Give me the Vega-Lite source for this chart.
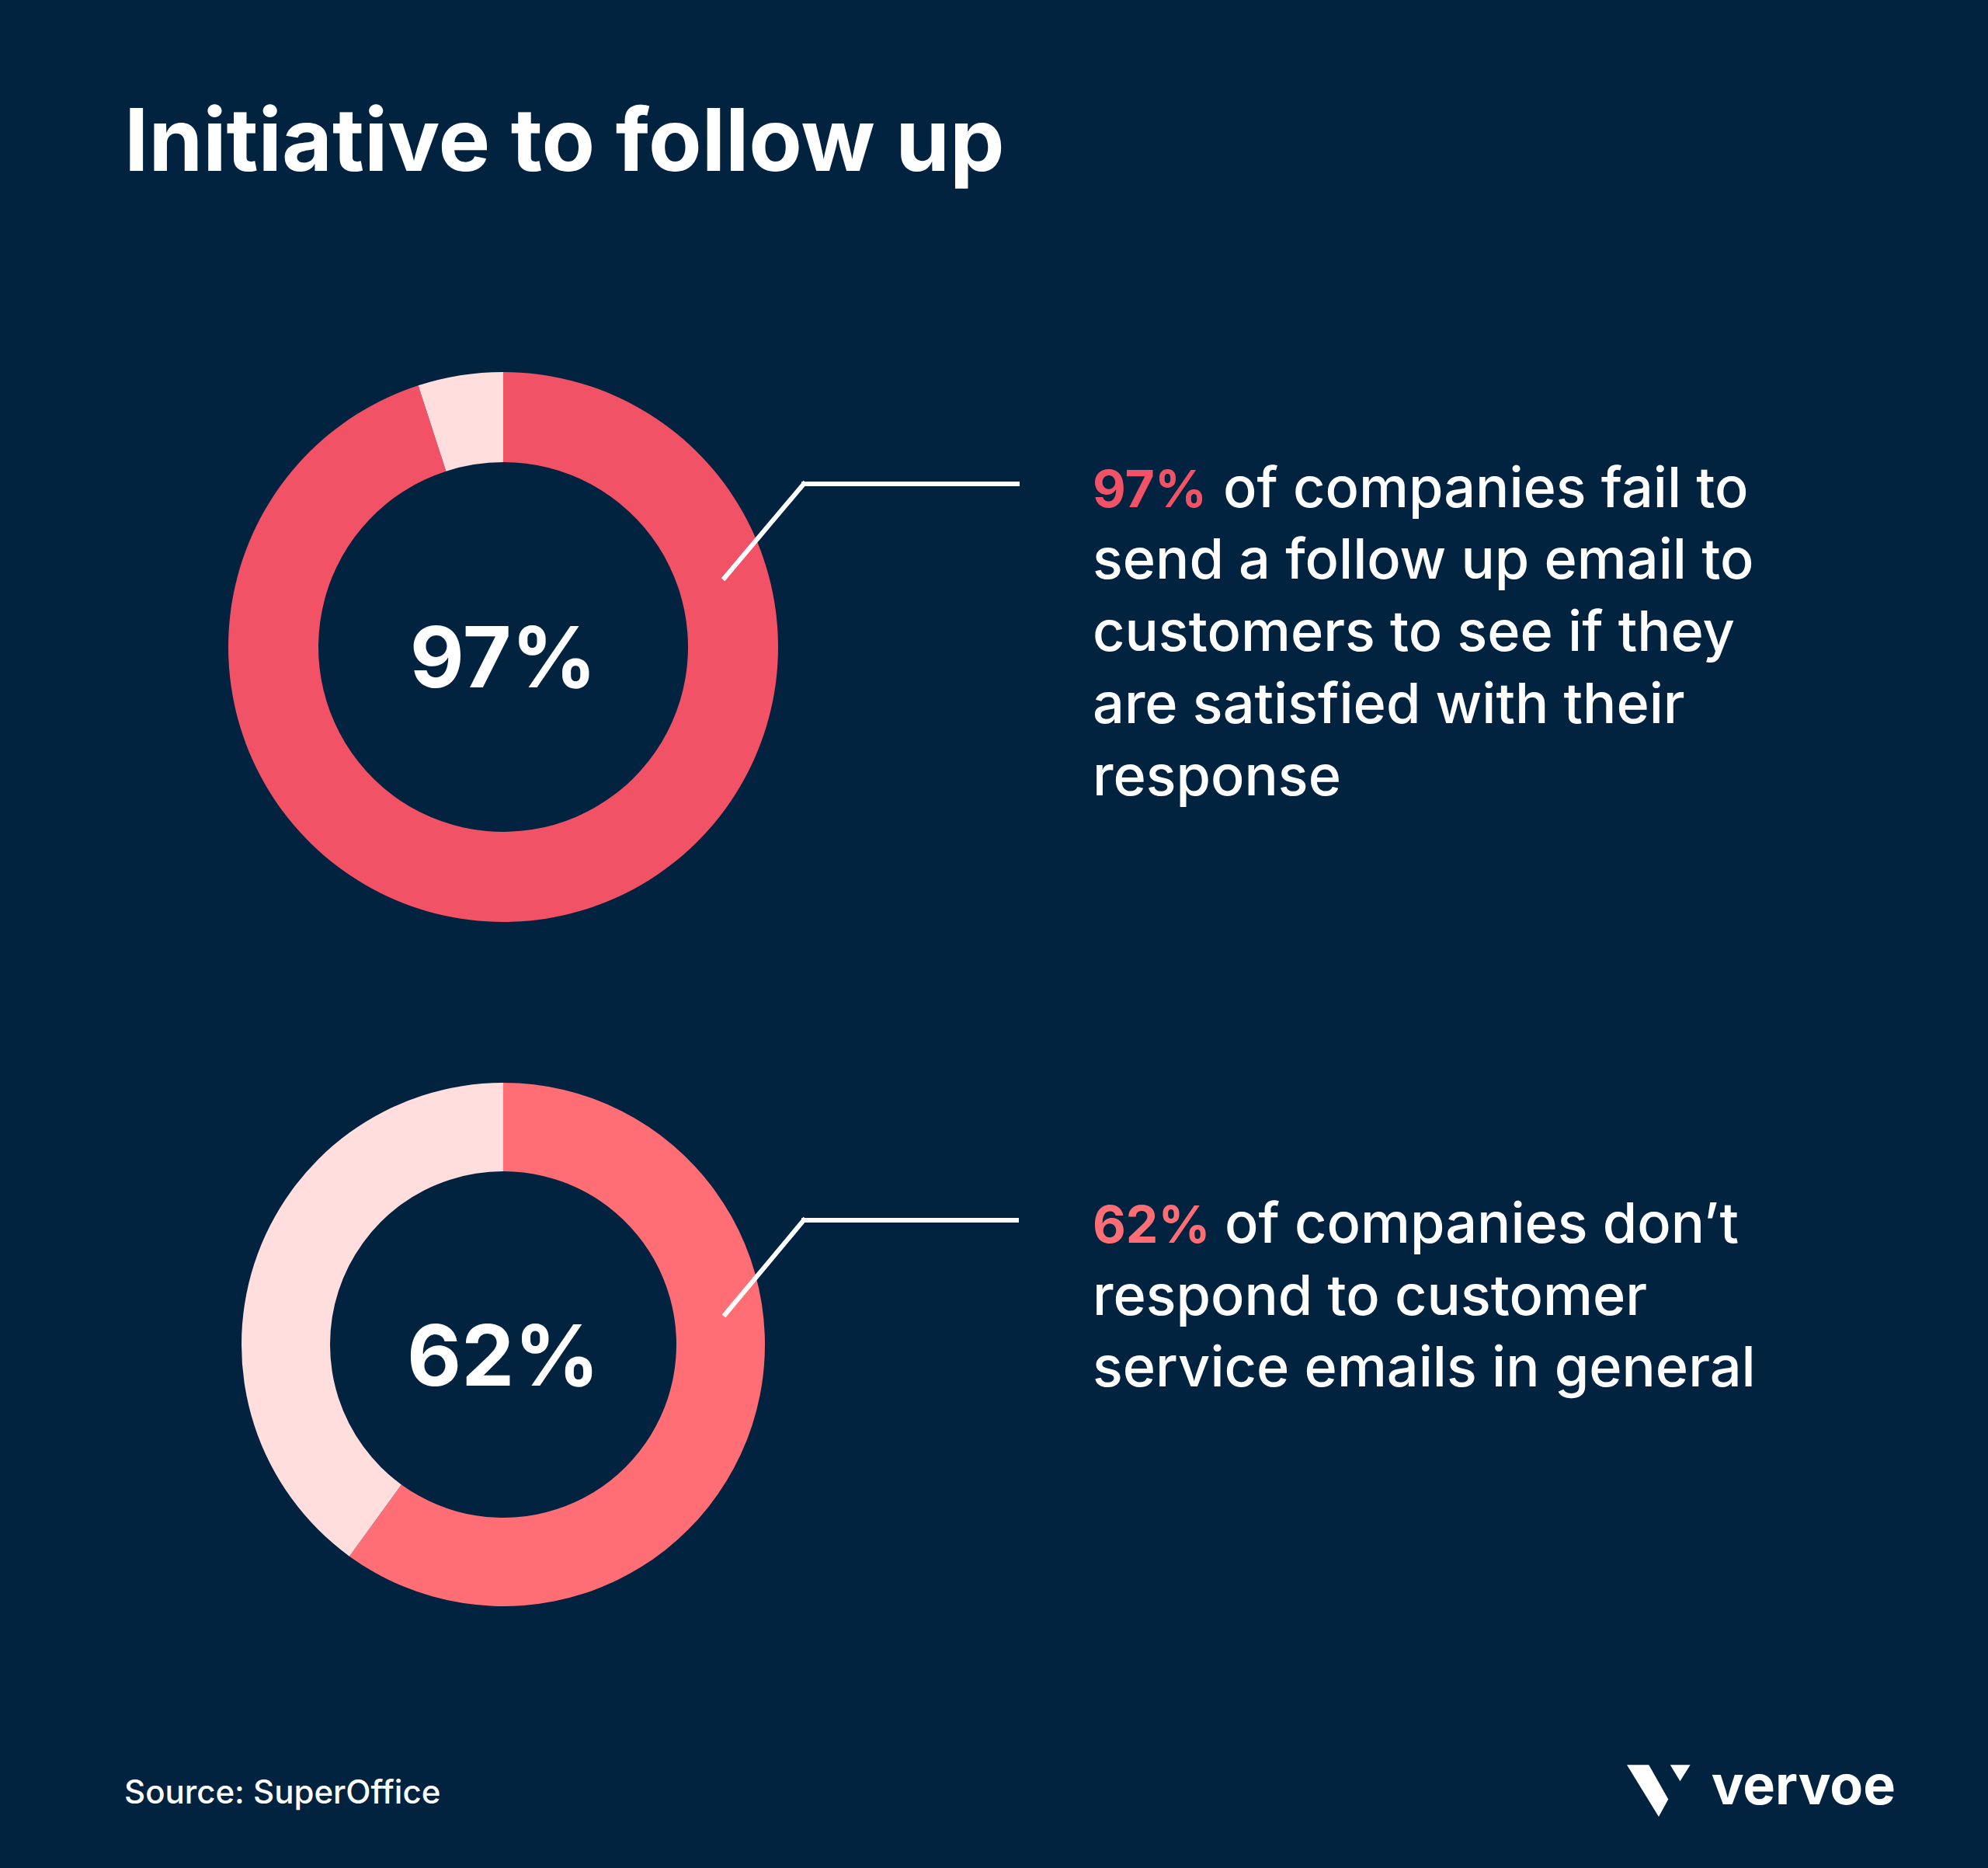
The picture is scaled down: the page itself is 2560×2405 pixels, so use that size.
{
  "$schema": "https://vega.github.io/schema/vega-lite/v6.json",
  "background": "#022340",
  "padding": {"left": 160, "top": 130, "right": 119, "bottom": 36},
  "title": {
    "text": "Initiative to follow up",
    "anchor": "start",
    "frame": "group",
    "color": "#ffffff",
    "font": "Inter",
    "fontSize": 112,
    "fontWeight": 700,
    "offset": 209
  },
  "config": {
    "view": {"stroke": null},
    "font": "Inter",
    "axis": {"disable": true}
  },
  "datasets": {
    "followup_split": [
      {"segment": "Fail to follow up", "share": 95},
      {"segment": "Follow up", "share": 5}
    ],
    "response_split": [
      {"segment": "Don’t respond", "share": 60},
      {"segment": "Respond", "share": 40}
    ],
    "stats": [
      {"metric": "followup", "label": "97%"},
      {"metric": "response", "label": "62%"}
    ],
    "captions": [
      {"metric": "followup", "line": 1, "text": "of companies fail to"},
      {"metric": "followup", "line": 2, "text": "send a follow up email to"},
      {"metric": "followup", "line": 3, "text": "customers to see if they"},
      {"metric": "followup", "line": 4, "text": "are satisfied with their"},
      {"metric": "followup", "line": 5, "text": "response"},
      {"metric": "response", "line": 1, "text": "of companies don’t"},
      {"metric": "response", "line": 2, "text": "respond to customer"},
      {"metric": "response", "line": 3, "text": "service emails in general"}
    ],
    "footer": [
      {"source": "Source: SuperOffice", "brand": "vervoe"}
    ]
  },
  "spacing": 138,
  "vconcat": [
    {
      "bounds": "flush",
      "spacing": 271,
      "hconcat": [
        {
          "width": 976,
          "height": 760,
          "layer": [
            {
              "data": {"name": "followup_split"},
              "mark": {"type": "arc", "outerRadius": 354, "innerRadius": 238},
              "encoding": {
                "theta": {"field": "share", "type": "quantitative", "stack": true},
                "order": {"field": "segment", "sort": "ascending"},
                "color": {
                  "field": "segment",
                  "type": "nominal",
                  "legend": null,
                  "scale": {
                    "domain": ["Fail to follow up", "Follow up", "Don’t respond", "Respond"],
                    "range": ["#F25266", "#FFDEDD", "#FF6E75", "#FFDEDD"]
                  }
                }
              }
            },
            {
              "data": {"name": "stats"},
              "transform": [{"filter": "datum.metric === 'followup'"}],
              "mark": {"type": "text", "fontSize": 108, "fontWeight": 700, "color": "#ffffff", "baseline": "alphabetic", "dy": 52},
              "encoding": {"text": {"field": "label", "type": "nominal"}}
            },
            {
              "data": {"name": "stats"},
              "transform": [{"filter": "datum.metric === 'followup'"}],
              "mark": {"type": "rule", "stroke": "#ffffff", "strokeWidth": 6, "strokeCap": "square"},
              "encoding": {
                "x": {"value": 773}, "y": {"value": 291},
                "x2": {"value": 875}, "y2": {"value": 170}
              }
            },
            {
              "data": {"name": "stats"},
              "transform": [{"filter": "datum.metric === 'followup'"}],
              "mark": {"type": "rule", "stroke": "#ffffff", "strokeWidth": 6, "strokeCap": "square"},
              "encoding": {
                "x": {"value": 875}, "y": {"value": 170},
                "x2": {"value": 1150}, "y2": {"value": 170}
              }
            }
          ]
        },
        {
          "width": 1034,
          "height": 760,
          "layer": [
            {
              "data": {"name": "captions"},
              "transform": [{"filter": "datum.metric === 'followup' && datum.line > 1"}],
              "mark": {"type": "text", "align": "left", "baseline": "alphabetic", "fontSize": 72, "fontWeight": 500, "color": "#ffffff"},
              "encoding": {
                "x": {"value": 0},
                "y": {"field": "line", "type": "quantitative", "scale": {"domain": [-1.152, 7.038], "reverse": true, "nice": false, "zero": false}, "axis": null},
                "text": {"field": "text", "type": "nominal"}
              }
            },
            {
              "data": {"name": "captions"},
              "transform": [{"filter": "datum.metric === 'followup' && datum.line === 1"}],
              "mark": {"type": "text", "align": "left", "baseline": "alphabetic", "fontSize": 72, "fontWeight": 500, "color": "#ffffff"},
              "encoding": {
                "x": {"value": 168},
                "y": {"field": "line", "type": "quantitative", "axis": null},
                "text": {"field": "text", "type": "nominal"}
              }
            },
            {
              "data": {"name": "stats"},
              "transform": [{"filter": "datum.metric === 'followup'"}],
              "mark": {"type": "text", "align": "left", "baseline": "alphabetic", "fontSize": 66, "fontWeight": 700, "color": "#F25266"},
              "encoding": {
                "x": {"value": 0},
                "y": {"datum": 1, "type": "quantitative", "axis": null},
                "text": {"field": "label", "type": "nominal"}
              }
            }
          ]
        }
      ]
    },
    {
      "bounds": "flush",
      "spacing": 271,
      "hconcat": [
        {
          "width": 976,
          "height": 760,
          "layer": [
            {
              "data": {"name": "response_split"},
              "mark": {"type": "arc", "outerRadius": 337, "innerRadius": 223},
              "encoding": {
                "theta": {"field": "share", "type": "quantitative", "stack": true},
                "order": {"field": "segment", "sort": "ascending"},
                "color": {
                  "field": "segment",
                  "type": "nominal",
                  "legend": null,
                  "scale": {
                    "domain": ["Fail to follow up", "Follow up", "Don’t respond", "Respond"],
                    "range": ["#F25266", "#FFDEDD", "#FF6E75", "#FFDEDD"]
                  }
                }
              }
            },
            {
              "data": {"name": "stats"},
              "transform": [{"filter": "datum.metric === 'response'"}],
              "mark": {"type": "text", "fontSize": 108, "fontWeight": 700, "color": "#ffffff", "baseline": "alphabetic", "dy": 53},
              "encoding": {"text": {"field": "label", "type": "nominal"}}
            },
            {
              "data": {"name": "stats"},
              "transform": [{"filter": "datum.metric === 'response'"}],
              "mark": {"type": "rule", "stroke": "#ffffff", "strokeWidth": 6, "strokeCap": "square"},
              "encoding": {
                "x": {"value": 774}, "y": {"value": 341},
                "x2": {"value": 875}, "y2": {"value": 220}
              }
            },
            {
              "data": {"name": "stats"},
              "transform": [{"filter": "datum.metric === 'response'"}],
              "mark": {"type": "rule", "stroke": "#ffffff", "strokeWidth": 6, "strokeCap": "square"},
              "encoding": {
                "x": {"value": 875}, "y": {"value": 220},
                "x2": {"value": 1149}, "y2": {"value": 220}
              }
            }
          ]
        },
        {
          "width": 1034,
          "height": 760,
          "layer": [
            {
              "data": {"name": "captions"},
              "transform": [{"filter": "datum.metric === 'response' && datum.line > 1"}],
              "mark": {"type": "text", "align": "left", "baseline": "alphabetic", "fontSize": 72, "fontWeight": 500, "color": "#ffffff"},
              "encoding": {
                "x": {"value": 0},
                "y": {"field": "line", "type": "quantitative", "scale": {"domain": [-1.686, 6.513], "reverse": true, "nice": false, "zero": false}, "axis": null},
                "text": {"field": "text", "type": "nominal"}
              }
            },
            {
              "data": {"name": "captions"},
              "transform": [{"filter": "datum.metric === 'response' && datum.line === 1"}],
              "mark": {"type": "text", "align": "left", "baseline": "alphabetic", "fontSize": 72, "fontWeight": 500, "color": "#ffffff"},
              "encoding": {
                "x": {"value": 170},
                "y": {"field": "line", "type": "quantitative", "axis": null},
                "text": {"field": "text", "type": "nominal"}
              }
            },
            {
              "data": {"name": "stats"},
              "transform": [{"filter": "datum.metric === 'response'"}],
              "mark": {"type": "text", "align": "left", "baseline": "alphabetic", "fontSize": 66, "fontWeight": 700, "color": "#FF6E75"},
              "encoding": {
                "x": {"value": 0},
                "y": {"datum": 1, "type": "quantitative", "axis": null},
                "text": {"field": "label", "type": "nominal"}
              }
            }
          ]
        }
      ]
    },
    {
      "width": 2281,
      "height": 120,
      "data": {"name": "footer"},
      "layer": [
        {
          "mark": {"type": "text", "align": "left", "baseline": "alphabetic", "fontSize": 42, "fontWeight": 500, "color": "#ffffff", "x": 0, "y": 73},
          "encoding": {"text": {"field": "source", "type": "nominal"}}
        },
        {
          "mark": {"type": "text", "align": "right", "baseline": "alphabetic", "fontSize": 70, "fontWeight": 700, "color": "#ffffff", "x": 2281, "y": 74},
          "encoding": {"text": {"field": "brand", "type": "nominal"}}
        },
        {
          "mark": {
            "type": "point",
            "shape": "M-1,-0.81L-0.31,-0.81L0.3,0.27L0,0.82ZM0.36,-0.81L0.99,-0.81L0.67,-0.3Z",
            "size": 6724,
            "filled": true,
            "opacity": 1,
            "color": "#ffffff",
            "strokeWidth": 0,
            "x": 1976,
            "y": 56.5
          },
          "encoding": {}
        }
      ]
    }
  ]
}
